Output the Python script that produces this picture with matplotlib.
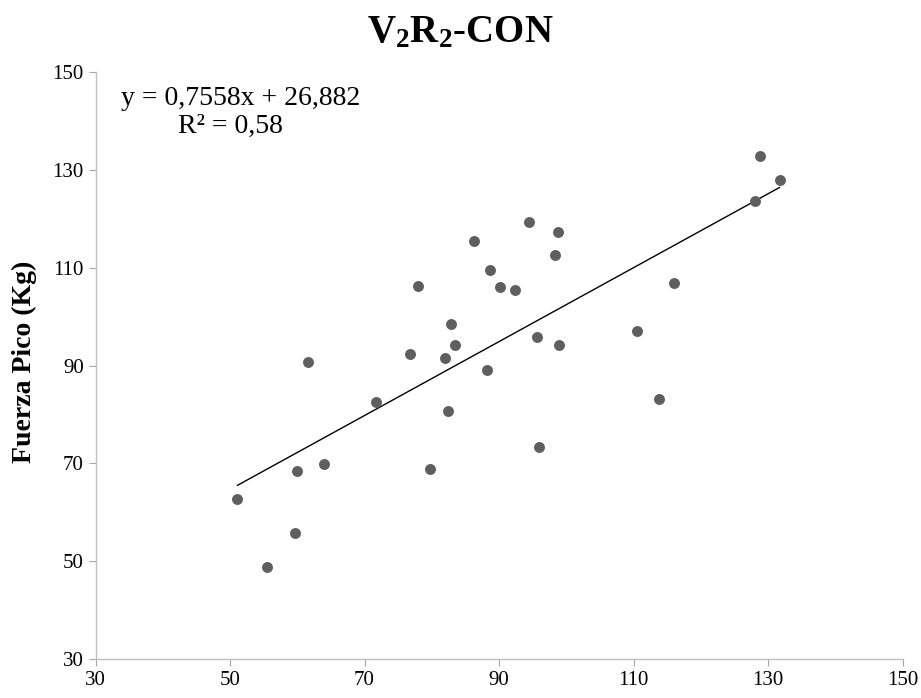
import matplotlib
matplotlib.use("Agg")
import matplotlib.pyplot as plt
import numpy as np

x_vals = [51.1, 55.5, 59.7, 59.9, 61.6, 63.9, 71.7, 76.7, 78.0, 79.8, 82.0,
          82.4, 82.8, 83.4, 86.3, 88.2, 88.7, 90.1, 92.4, 94.4, 95.6, 96.0,
          98.3, 98.7, 98.9, 110.5, 113.8, 116.0, 128.1, 128.8, 131.7]
y_vals = [62.7, 48.9, 55.8, 68.5, 90.7, 69.9, 82.6, 92.4, 106.3, 68.8, 91.6,
          80.7, 98.5, 94.2, 115.5, 89.0, 109.5, 106.0, 105.5, 119.3, 95.9, 73.4,
          112.7, 117.3, 94.2, 97.1, 83.2, 106.9, 123.7, 132.8, 127.9]
slope = 0.7558
intercept = 26.882
ticks = [30, 50, 70, 90, 110, 130, 150]

plt.rcParams['font.family'] = ['Liberation Serif', 'DejaVu Serif']
plt.rcParams['mathtext.fontset'] = 'custom'
plt.rcParams['mathtext.rm'] = 'Liberation Serif'
plt.rcParams['mathtext.bf'] = 'Liberation Serif:bold'
plt.rcParams['mathtext.it'] = 'Liberation Serif:italic'

fig = plt.figure(figsize=(9.21, 6.98), dpi=100)
ax = fig.add_axes([0.1037, 0.0559, 0.8763, 0.8407])

ax.scatter(x_vals, y_vals, s=62, color='#5f5f5f', zorder=3, linewidths=0)
xl = np.array([min(x_vals), max(x_vals)])
ax.plot(xl, slope * xl + intercept, color='black', lw=1.0, zorder=2)

ax.set_xlim(30, 150)
ax.set_ylim(30, 150)
ax.set_xticks(ticks)
ax.set_yticks(ticks)
ax.tick_params(axis='both', labelsize=15, color='#a6a6a6', length=5, direction='out')
for s in ['top', 'right']:
    ax.spines[s].set_visible(False)
for s in ['left', 'bottom']:
    ax.spines[s].set_color('#bfbfbf')
    ax.spines[s].set_linewidth(1.0)

ax.set_ylabel('Fuerza Pico (Kg)', fontsize=20, fontweight='bold')
ax.yaxis.set_label_coords(-0.0725, 0.506)
fig.text(0.5, 1 - 42 / 698, r'$\mathbf{V}_{\mathbf{2}}\mathbf{R}_{\mathbf{2}}$' + '-CON',
         ha='center', va='baseline', fontsize=28, fontweight='bold')
ax.text(0.1803, 0.944, 'y = 0,7558x + 26,882', transform=ax.transAxes,
        ha='center', va='baseline', fontsize=20)
ax.text(0.1667, 0.896, 'R² = 0,58', transform=ax.transAxes,
        ha='center', va='baseline', fontsize=20)

fig.savefig('out.png', dpi=100)
